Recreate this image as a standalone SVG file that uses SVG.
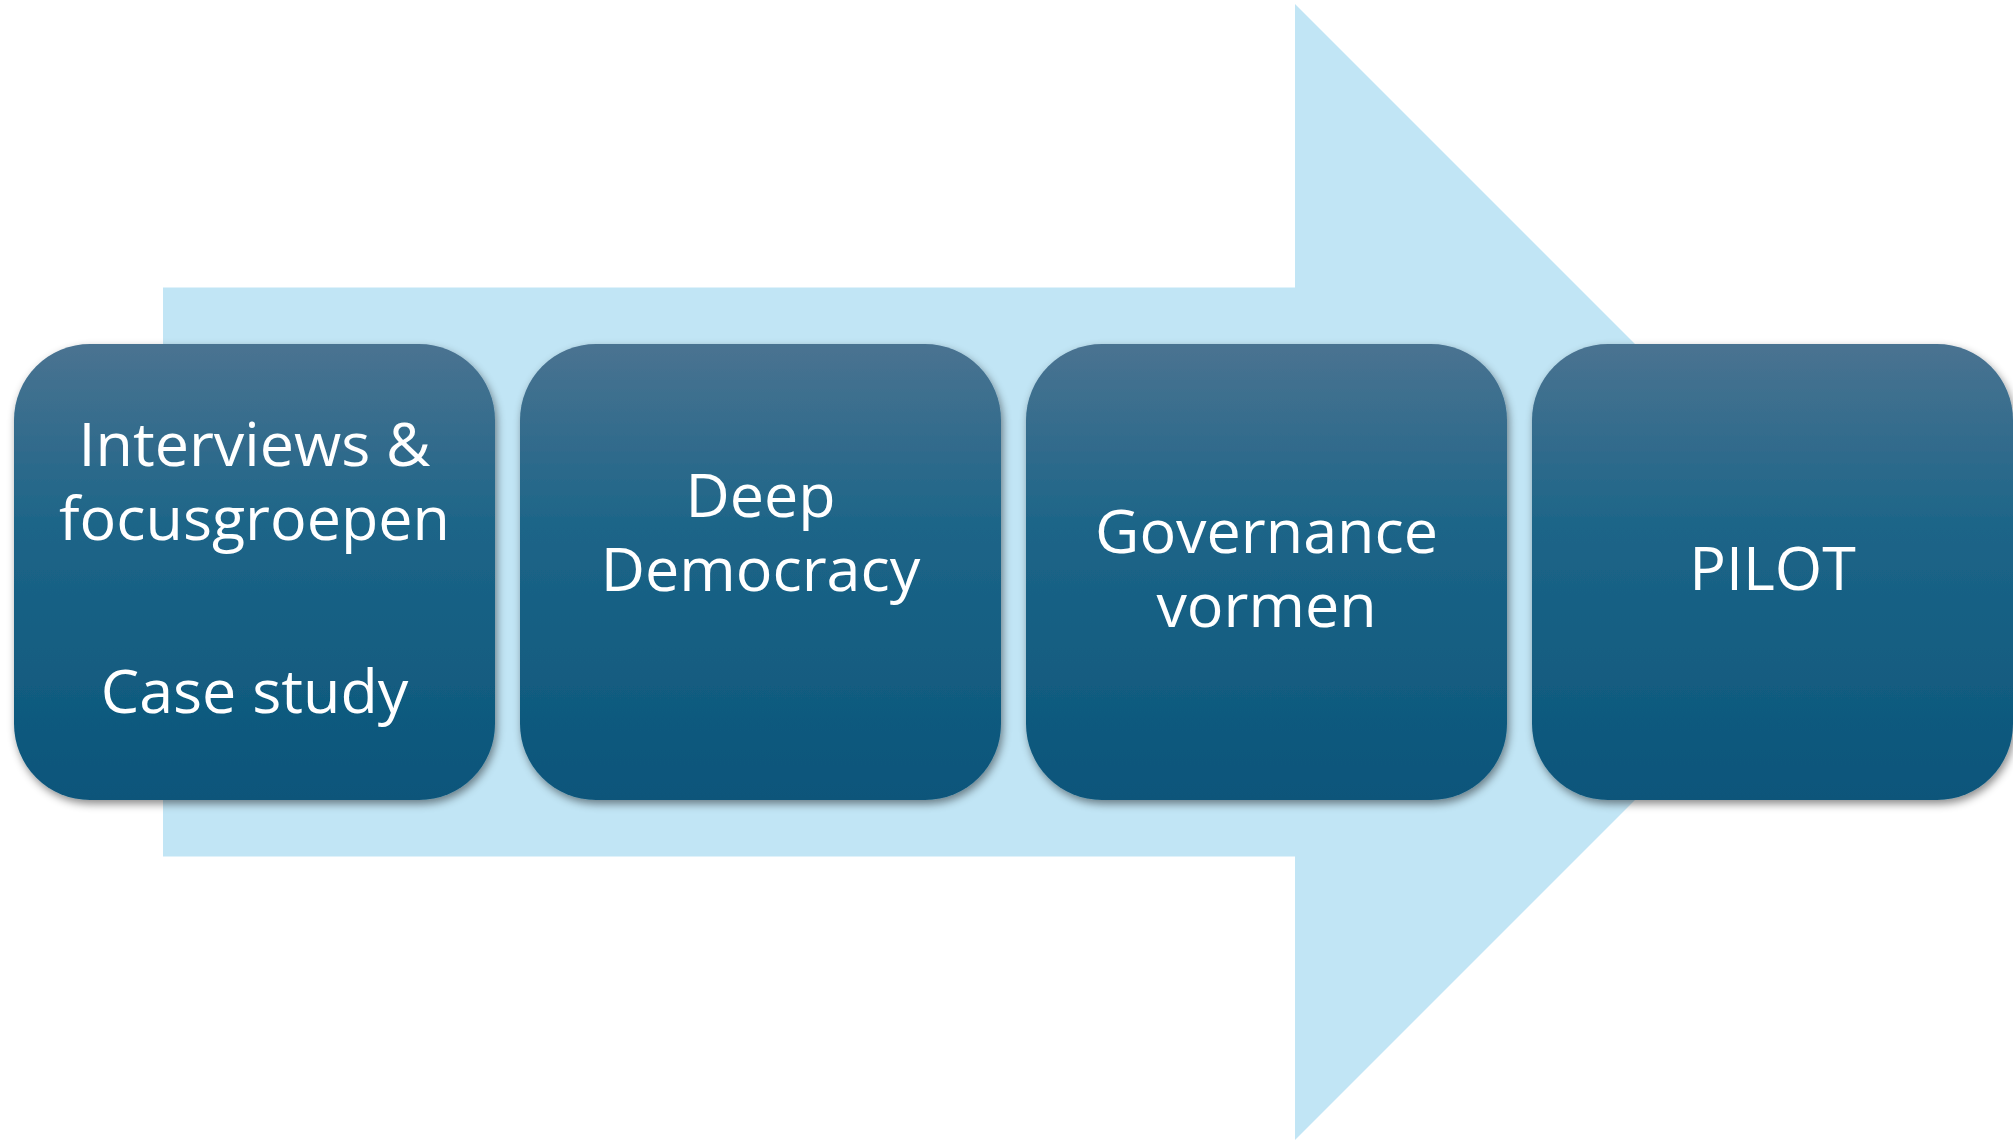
<svg xmlns="http://www.w3.org/2000/svg" width="2013" height="1140" viewBox="0 0 2013 1140">
<defs>
<linearGradient id="boxGrad" x1="0" y1="0" x2="0" y2="1">
<stop offset="0" stop-color="#4a7391"/>
<stop offset="0.4" stop-color="#1d6588"/>
<stop offset="1" stop-color="#0a557a"/>
</linearGradient>
<filter id="shadow" x="-10%" y="-10%" width="120%" height="125%">
<feDropShadow dx="2" dy="4" stdDeviation="4" flood-color="#000" flood-opacity="0.45"/>
</filter>
</defs>
<style>
.box{fill:url(#boxGrad);filter:url(#shadow);}
.lbl{font-family:"Open Sans","Liberation Sans",sans-serif;font-size:61px;fill:#ffffff;text-anchor:middle;}
</style>
<rect width="2013" height="1140" fill="#ffffff"/>
<g id="arrow">
<polygon points="163,287.5 1295,287.5 1295,4 1863,572 1295,1140 1295,856.5 163,856.5" fill="#c1e5f5"/>
</g>
<g id="connectors"></g>
<g id="node1">
<rect class="box" x="14" y="344" width="481" height="456" rx="76" ry="76"/>
<text class="lbl" x="254.5" y="466">Interviews &amp;</text>
<text class="lbl" x="254.5" y="540">focusgroepen</text>
<text class="lbl" x="254.5" y="713">Case study</text>
</g>
<g id="node2">
<rect class="box" x="520" y="344" width="481" height="456" rx="76" ry="76"/>
<text class="lbl" x="760.5" y="517">Deep</text>
<text class="lbl" x="760.5" y="591">Democracy</text>
</g>
<g id="node3">
<rect class="box" x="1026" y="344" width="481" height="456" rx="76" ry="76"/>
<text class="lbl" x="1266.5" y="553">Governance</text>
<text class="lbl" x="1266.5" y="627">vormen</text>
</g>
<g id="node4">
<rect class="box" x="1532" y="344" width="481" height="456" rx="76" ry="76"/>
<text class="lbl" x="1772.5" y="590">PILOT</text>
</g>
</svg>
